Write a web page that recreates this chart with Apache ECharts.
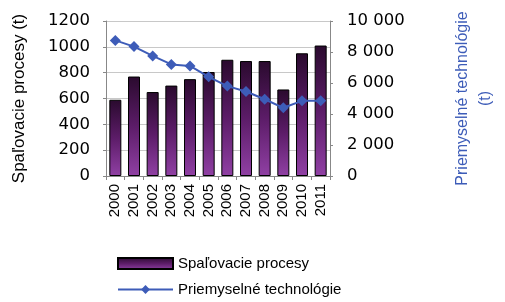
<!DOCTYPE html>
<html>
<head>
<meta charset="utf-8">
<script src="https://cdn.jsdelivr.net/npm/echarts@6/dist/echarts.min.js"></script>
<style>
  html, body { margin: 0; padding: 0; background: #fff; }
  #chart { width: 505px; height: 302px; }
</style>
</head>
<body>
<div id="chart"></div>
<script>
// roky a hodnoty odčítané z grafu
const years = ['2000', '2001', '2002', '2003', '2004', '2005', '2006', '2007', '2008', '2009', '2010', '2011'];
const spalovacie = [590, 770, 650, 700, 750, 805, 900, 890, 890, 670, 950, 1010];
const priemyselne = [8750, 8350, 7750, 7200, 7100, 6400, 5800, 5450, 4950, 4400, 4850, 4850];

const font = 'Liberation Sans, Arial, sans-serif';
const wideFont = 'DejaVu Sans, sans-serif';
const blue = '#3d5cb8';

const myChart = echarts.init(document.getElementById('chart'));

const legendBase = {
    orient: 'vertical',
    left: 112,
    itemWidth: 55,
    itemHeight: 11,
    textStyle: { fontFamily: font, fontSize: 15, color: '#000' }
};

const option = {
    animation: false,
    grid: { left: 106, right: 145, top: 21, bottom: 126, containLabel: false },
    legend: [
        { ...legendBase, top: 251, data: [{ name: 'Spaľovacie procesy', icon: 'rect' }] },
        { ...legendBase, top: 277, data: ['Priemyselné technológie'] }
    ],
    xAxis: {
        type: 'category',
        data: years,
        axisLine: { lineStyle: { color: '#888' } },
        axisTick: { show: true, length: 4, lineStyle: { color: '#888' } },
        axisLabel: { interval: 0, rotate: 90, fontFamily: font, fontSize: 15, color: '#000', margin: 8 }
    },
    yAxis: [
        {
            type: 'value',
            min: 0, max: 1200, interval: 200,
            name: 'Spaľovacie procesy (t)',
            nameLocation: 'middle',
            nameRotate: 90,
            nameGap: 78,
            nameTextStyle: { fontFamily: font, fontSize: 17, color: '#000' },
            axisLine: { show: true, lineStyle: { color: '#888' } },
            axisTick: { show: true, length: 3, lineStyle: { color: '#888' } },
            axisLabel: { fontFamily: wideFont, fontSize: 16.5, color: '#000', margin: 16, formatter: v => String(v) },
            splitLine: { lineStyle: { color: '#c8c8c8' } }
        },
        {
            type: 'value',
            min: 0, max: 10000, interval: 2000,
            position: 'right',
            name: 'Priemyselné technológie\n(t)',
            nameLocation: 'middle',
            nameRotate: 90,
            nameGap: 121,
            nameTextStyle: { fontFamily: font, fontSize: 16, color: blue, lineHeight: 23 },
            axisLine: { show: true, lineStyle: { color: '#888' } },
            axisTick: { show: true, length: 3, lineStyle: { color: '#888' } },
            axisLabel: {
                fontFamily: wideFont, fontSize: 16.5, color: '#000', margin: 17,
                formatter: v => String(v).replace(/\B(?=(\d{3})+(?!\d))/g, ' ')
            },
            splitLine: { show: false }
        }
    ],
    series: [
        {
            name: 'Spaľovacie procesy',
            type: 'bar',
            yAxisIndex: 0,
            barWidth: 12,
            data: spalovacie,
            itemStyle: {
                color: new echarts.graphic.LinearGradient(0, 0, 0, 1, [
                    { offset: 0, color: '#2a0a2e' },
                    { offset: 0.5, color: '#5c1c68' },
                    { offset: 1, color: '#9040a4' }
                ]),
                borderColor: '#000',
                borderWidth: 1
            }
        },
        {
            name: 'Priemyselné technológie',
            type: 'line',
            yAxisIndex: 1,
            data: priemyselne,
            symbol: 'diamond',
            symbolSize: 11,
            lineStyle: { color: blue, width: 2 },
            itemStyle: { color: blue }
        }
    ]
};

myChart.setOption(option);
</script>
</body>
</html>
